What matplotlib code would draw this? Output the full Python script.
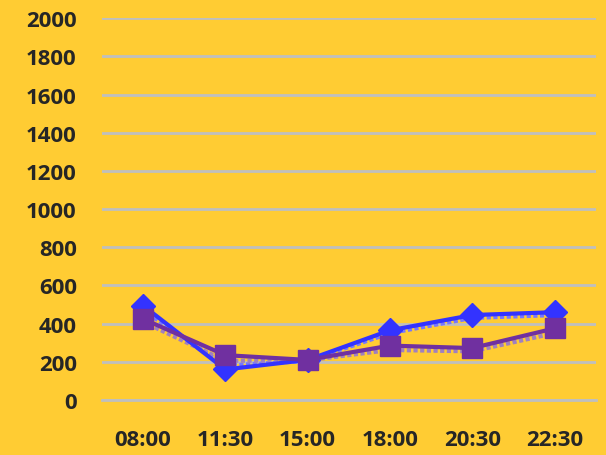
import matplotlib
matplotlib.use('Agg')
import matplotlib.pyplot as plt

# %% data
times = ['08:00', '11:30', '15:00', '18:00', '20:30', '22:30']
blue_main = [495, 160, 210, 365, 445, 460]
blue_dash = [470, 180, 205, 350, 430, 445]
purple_main = [425, 235, 210, 285, 272, 375]
purple_dash = [410, 205, 208, 262, 255, 350]

bg = '#FFCC33'
blue = '#3333FF'
purple = '#7030A0'

# %% plot
fig = plt.figure(figsize=(6.06, 4.56), dpi=100, facecolor=bg)
ax = fig.add_axes([0.168, 0.1206, 0.815, 0.8373], facecolor=bg)
x = list(range(len(times)))

ax.plot(x, blue_dash, color='#7777FF', lw=3, ls=(0, (1, 0.6)), zorder=3)
ax.plot(x, purple_dash, color='#A080C0', lw=3, ls=(0, (1, 0.6)), zorder=3)
ax.plot(x, blue_main, color=blue, lw=3, marker='D', ms=12, zorder=4)
ax.plot(x, purple_main, color=purple, lw=3, marker='s', ms=15, zorder=5)

ax.set_xlim(-0.5, len(times) - 0.5)
ax.set_ylim(0, 2000)
ax.set_yticks(range(0, 2001, 200))
ax.set_xticks(x)
ax.set_xticklabels(times)
ax.grid(axis='y', color='#BFBFBF', lw=2)
ax.axhline(0, color='#BFBFBF', lw=2, clip_on=False, zorder=1)
ax.set_axisbelow(True)
for s in ax.spines.values():
    s.set_visible(False)
ax.tick_params(axis='y', length=0, pad=18)
ax.tick_params(axis='x', length=0, pad=21)
for lab in ax.get_xticklabels() + ax.get_yticklabels():
    lab.set_fontfamily('Open Sans')
    lab.set_fontweight('bold')
    lab.set_fontsize(16)
    lab.set_color('#262626')

fig.savefig('out.png', dpi=100, facecolor=bg)
